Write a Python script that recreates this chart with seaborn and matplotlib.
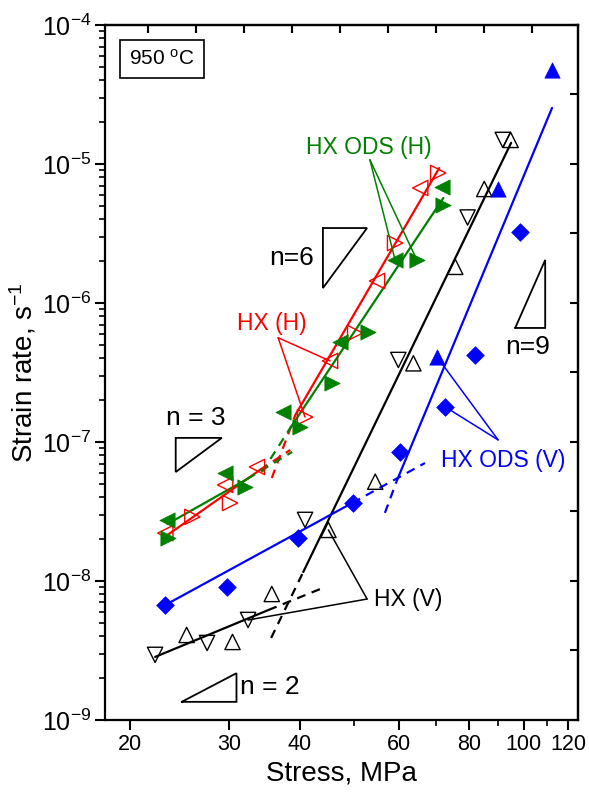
import numpy as np
import matplotlib
matplotlib.use("Agg")
import matplotlib.pyplot as plt
from matplotlib.ticker import LogLocator, NullFormatter, NullLocator
import seaborn as sns

# HX (H) - open red triangles, two specimens
hx_h_a_stress = [23.1, 29.5, 33.6, 45.3, 54.9, 65.5]
hx_h_a_rate = [2.21e-8, 4.91e-8, 6.61e-8, 3.83e-7, 1.44e-6, 6.72e-6]
hx_h_b_stress = [25.8, 30.1, 40.9, 50.2, 59.1, 70.5]
hx_h_b_rate = [2.89e-8, 3.64e-8, 1.51e-7, 6.08e-7, 2.70e-6, 8.62e-6]

# HX ODS (H) - filled green triangles
ods_h_a_stress = [23.24, 29.5, 37.4, 47.2, 59.1, 71.6]
ods_h_a_rate = [2.75e-8, 5.98e-8, 1.64e-7, 5.24e-7, 2.04e-6, 6.87e-6]
ods_h_b_stress = [23.39, 32.0, 40.1, 45.7, 52.9, 64.6, 72.0]
ods_h_b_rate = [2.04e-8, 4.75e-8, 1.28e-7, 2.66e-7, 6.18e-7, 2.04e-6, 5.07e-6]

# HX (V) - open black triangles
hx_v_a_stress = [22.15, 27.4, 32.4, 40.9, 59.9, 79.5, 91.8]
hx_v_a_rate = [2.94e-9, 3.58e-9, 5.24e-9, 2.75e-8, 3.89e-7, 4.12e-6, 1.49e-5]
hx_v_b_stress = [25.2, 30.4, 35.7, 45.0, 54.5, 63.7, 75.6, 85.1, 94.8]
hx_v_b_rate = [4.09e-9, 3.64e-9, 8.06e-9, 2.33e-8, 5.18e-8, 3.68e-7, 1.82e-6, 6.61e-6, 1.49e-5]

# HX ODS (V) - filled blue
ods_v_a_stress = [23.1, 29.7, 39.8, 49.7, 60.3, 72.5, 82.0, 98.4]
ods_v_a_rate = [6.72e-9, 9.1e-9, 2.03e-8, 3.62e-8, 8.51e-8, 1.79e-7, 4.23e-7, 3.26e-6]
ods_v_b_stress = [70.1, 90.2, 112.2]
ods_v_b_rate = [4.11e-7, 6.61e-6, 4.75e-5]

# fitted lines: low regime (solid, then dashed extension), high regime (dashed, then solid)
red_low_stress = [23.3, 34.0, 38.5]
red_low_rate = [2.14e-8, 6.29e-8, 8.76e-8]
red_high_stress = [35.7, 39.3, 70.8]
red_high_rate = [5.51e-8, 1.56e-7, 9.35e-6]
green_low_stress = [23.3, 32.3, 38.8]
green_low_rate = [2.57e-8, 5.42e-8, 8.48e-8]
green_high_stress = [34.3, 38.5, 72.0]
green_high_rate = [6.08e-8, 1.26e-7, 5.69e-6]
black_low_stress = [22.15, 35.2, 44.0]
black_low_rate = [2.84e-9, 6.18e-9, 8.91e-9]
black_high_stress = [35.6, 40.6, 95.0]
black_high_rate = [3.89e-9, 1.16e-8, 1.42e-5]
blue_low_stress = [23.1, 49.6, 66.8]
blue_low_rate = [6.72e-9, 3.64e-8, 7.06e-8]
blue_high_stress = [56.7, 59.6, 112.3]
blue_high_rate = [3.09e-8, 5.33e-8, 2.53e-5]

# slope guide triangles
tri_n3_stress = [24.1, 29.1, 24.1, 24.1]
tri_n3_rate = [1.07e-7, 1.07e-7, 6.08e-8, 1.07e-7]
tri_n6_stress = [44.0, 52.7, 44.0, 44.0]
tri_n6_rate = [3.46e-6, 3.46e-6, 1.28e-6, 3.46e-6]
tri_n9_stress = [96.6, 109.2, 109.2, 96.6]
tri_n9_rate = [6.61e-7, 6.61e-7, 2.04e-6, 6.61e-7]
tri_n2_stress = [24.7, 30.9, 30.9, 24.7]
tri_n2_rate = [1.35e-9, 1.35e-9, 2.17e-9, 1.35e-9]

RED, GREEN, BLUE, BLACK = "#ff0000", "#008000", "#0000ff", "#000000"

sns.set_style("ticks")
plt.rcParams["font.family"] = ["Liberation Sans", "DejaVu Sans"]
plt.rcParams["mathtext.fontset"] = "custom"
plt.rcParams["mathtext.rm"] = "Liberation Sans"
plt.rcParams["mathtext.it"] = "Liberation Sans:italic"
plt.rcParams["mathtext.bf"] = "Liberation Sans:bold"
for key in ["text.color", "axes.labelcolor", "xtick.color", "ytick.color", "axes.edgecolor"]:
    plt.rcParams[key] = "black"

fig = plt.figure(figsize=(5.89, 7.93), dpi=100)
ax = fig.add_axes([0.1783, 0.0921, 0.8031, 0.8764])
ax.set_xscale("log")
ax.set_yscale("log")


def points(x, y, marker, color, filled, size=11):
    if filled:
        sns.scatterplot(x=x, y=y, ax=ax, marker=marker, color=color,
                        edgecolor=color, s=size ** 2, linewidth=0.5, zorder=3)
    else:
        sns.scatterplot(x=x, y=y, ax=ax, marker=marker, color=color,
                        facecolor="none", edgecolor=color, s=size ** 2,
                        linewidth=1.0, zorder=3)


def fit(x, y, color, solid_first):
    dash = (0, (4, 3))
    styles = ["-", dash] if solid_first else [dash, "-"]
    for i in range(2):
        sns.lineplot(x=x[i:i + 2], y=y[i:i + 2], ax=ax, color=color, lw=1.6,
                     linestyle=styles[i], sort=False, errorbar=None, zorder=2)


fit(red_low_stress, red_low_rate, RED, True)
fit(red_high_stress, red_high_rate, RED, False)
fit(green_low_stress, green_low_rate, GREEN, True)
fit(green_high_stress, green_high_rate, GREEN, False)
fit(black_low_stress, black_low_rate, BLACK, True)
fit(black_high_stress, black_high_rate, BLACK, False)
fit(blue_low_stress, blue_low_rate, BLUE, True)
fit(blue_high_stress, blue_high_rate, BLUE, False)

points(hx_h_a_stress, hx_h_a_rate, "<", RED, False)
points(hx_h_b_stress, hx_h_b_rate, ">", RED, False)
points(ods_h_a_stress, ods_h_a_rate, "<", GREEN, True)
points(ods_h_b_stress, ods_h_b_rate, ">", GREEN, True)
points(hx_v_a_stress, hx_v_a_rate, "v", BLACK, False)
points(hx_v_b_stress, hx_v_b_rate, "^", BLACK, False)
points(ods_v_a_stress, ods_v_a_rate, "D", BLUE, True, size=9)
points(ods_v_b_stress, ods_v_b_rate, "^", BLUE, True)

for tx, ty in [(tri_n3_stress, tri_n3_rate), (tri_n6_stress, tri_n6_rate),
               (tri_n9_stress, tri_n9_rate), (tri_n2_stress, tri_n2_rate)]:
    ax.plot(tx, ty, color="black", lw=1.3, solid_joinstyle="miter")

ax.text(0.192, 0.434, "n = 3", transform=ax.transAxes, fontsize=19, ha="center", va="center")
ax.text(0.394, 0.665, "n=6", transform=ax.transAxes, fontsize=19, ha="center", va="center")
ax.text(0.894, 0.537, "n=9", transform=ax.transAxes, fontsize=19, ha="center", va="center")
ax.text(0.285, 0.0475, "n = 2", transform=ax.transAxes, fontsize=19, ha="left", va="center")


# label pointers: apex in axes fraction, ends on data points
def pointer(apex, targets, color):
    for tx, ty in targets:
        ax.annotate("", xy=(tx, ty), xycoords="data", xytext=apex,
                    textcoords="axes fraction",
                    arrowprops=dict(arrowstyle="-", color=color, lw=1.1,
                                    shrinkA=0, shrinkB=0))


ax.text(0.353, 0.571, "HX (H)", transform=ax.transAxes, fontsize=16.5, color=RED, ha="center", va="center")
pointer((0.366, 0.550), [(hx_h_b_stress[2], hx_h_b_rate[2]), (hx_h_a_stress[3], hx_h_a_rate[3])], RED)

ax.text(0.558, 0.824, "HX ODS (H)", transform=ax.transAxes, fontsize=16.5, color=GREEN, ha="center", va="center")
pointer((0.560, 0.806), [(ods_h_a_stress[4], ods_h_a_rate[4]), (ods_h_b_stress[5], ods_h_b_rate[5])], GREEN)

ax.text(0.841, 0.374, "HX ODS (V)", transform=ax.transAxes, fontsize=16.5, color=BLUE, ha="center", va="center")
pointer((0.831, 0.403), [(ods_v_a_stress[5], ods_v_a_rate[5]), (ods_v_b_stress[0], ods_v_b_rate[0])], BLUE)

ax.text(0.641, 0.173, "HX (V)", transform=ax.transAxes, fontsize=16.5, color=BLACK, ha="center", va="center")
pointer((0.554, 0.174), [(hx_v_b_stress[3], hx_v_b_rate[3]), (hx_v_a_stress[2], hx_v_a_rate[2])], BLACK)

ax.text(0.1205, 0.951, "950 $^{\\mathregular{o}}$C", transform=ax.transAxes, fontsize=15,
        ha="center", va="center",
        bbox=dict(boxstyle="square,pad=0.45", fc="white", ec="black", lw=1.2))

ax.set_xlim(18.05, 124.9)
ax.set_ylim(1e-9, 1e-4)

ax.set_xticks([20, 30, 40, 60, 80, 100, 120], labels=["20", "30", "40", "60", "80", "100", "120"])
ax.set_xticks([50, 70, 90, 110], minor=True)
ax.xaxis.set_minor_formatter(NullFormatter())
ax.yaxis.set_major_locator(LogLocator(base=10, numticks=12))
ax.yaxis.set_minor_locator(LogLocator(base=10, subs=np.arange(2, 10), numticks=12))
ax.yaxis.set_minor_formatter(NullFormatter())

ax.tick_params(which="major", direction="out", length=7, width=1.5, color="black")
ax.tick_params(which="minor", direction="out", length=4, width=1.2, color="black")
ax.tick_params(axis="x", labelsize=15.5, pad=3)
ax.tick_params(axis="y", labelsize=18, pad=3)
for sp in ax.spines.values():
    sp.set_linewidth(1.6)
    sp.set_color("black")

top = ax.secondary_xaxis("top")
top.set_xticks(10 ** np.linspace(1.333, 2.0151, 9))
top.xaxis.set_major_formatter(NullFormatter())
top.xaxis.set_minor_locator(NullLocator())
top.tick_params(direction="in", length=6, width=1.5)
top.spines["top"].set_linewidth(1.6)

right = ax.secondary_yaxis("right")
right.set_yticks(10 ** np.arange(-9, -3.9, 0.5))
right.yaxis.set_major_formatter(NullFormatter())
right.yaxis.set_minor_locator(NullLocator())
right.tick_params(direction="in", length=6, width=1.5)
right.spines["right"].set_linewidth(1.6)

ax.set_xlabel("Stress, MPa", fontsize=20, labelpad=4)
ax.set_ylabel("Strain rate, s$^{\\mathregular{-1}}$", fontsize=20, labelpad=2)

fig.savefig("out.png", dpi=100)
